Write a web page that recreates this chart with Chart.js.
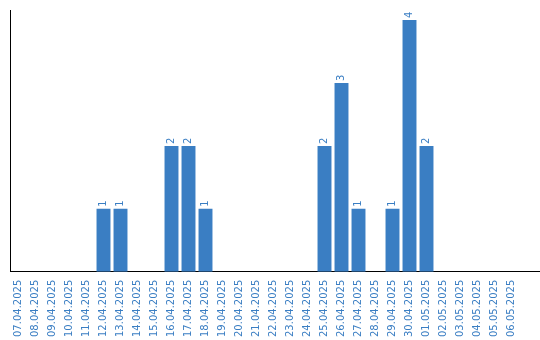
<!DOCTYPE html>
<html>
<head>
<meta charset="utf-8">
<script src="https://cdn.jsdelivr.net/npm/chart.js@4/dist/chart.umd.min.js"></script>
<style>
  html, body { margin: 0; padding: 0; background: #fff; }
  #wrap { width: 540px; height: 340px; }
</style>
</head>
<body>
<div id="wrap"><canvas id="c" width="540" height="340"></canvas></div>
<script>
const categories = ["07.04.2025","08.04.2025","09.04.2025","10.04.2025","11.04.2025","12.04.2025","13.04.2025","14.04.2025","15.04.2025","16.04.2025","17.04.2025","18.04.2025","19.04.2025","20.04.2025","21.04.2025","22.04.2025","23.04.2025","24.04.2025","25.04.2025","26.04.2025","27.04.2025","28.04.2025","29.04.2025","30.04.2025","01.05.2025","02.05.2025","03.05.2025","04.05.2025","05.05.2025","06.05.2025"];
const values = [0,0,0,0,0,1,1,0,0,2,2,1,0,0,0,0,0,0,2,3,1,0,1,4,2,0,0,0,0,0];

const BLUE = '#3a7ec3';

const valueLabels = {
  id: 'valueLabels',
  afterDatasetsDraw(chart) {
    const ctx = chart.ctx;
    const meta = chart.getDatasetMeta(0);
    ctx.save();
    ctx.fillStyle = BLUE;
    ctx.font = '10px "DejaVu Sans"';
    ctx.textAlign = 'left';
    ctx.textBaseline = 'middle';
    meta.data.forEach((bar, i) => {
      const v = values[i];
      if (!v) return;
      ctx.save();
      ctx.translate(bar.x, bar.y - 2);
      ctx.rotate(-Math.PI / 2);
      ctx.fillText(String(v), 0, 0);
      ctx.restore();
    });
    ctx.restore();
  }
};

const axisExtend = {
  id: 'axisExtend',
  afterDraw(chart) {
    const ctx = chart.ctx;
    const a = chart.chartArea;
    const y = Math.round(chart.scales.x.top - 0.5) + 0.5;
    ctx.save();
    ctx.strokeStyle = '#000';
    ctx.lineWidth = 1;
    ctx.beginPath();
    ctx.moveTo(a.right, y);
    ctx.lineTo(chart.width, y);
    ctx.stroke();
    ctx.restore();
  }
};

new Chart(document.getElementById('c'), {
  type: 'bar',
  data: {
    labels: categories,
    datasets: [{
      data: values,
      backgroundColor: BLUE,
      borderWidth: 0,
      categoryPercentage: 1,
      barPercentage: 0.82
    }]
  },
  options: {
    responsive: false,
    animation: false,
    layout: { padding: { left: 2, top: 10, right: 20, bottom: 3 } },
    plugins: { legend: { display: false }, tooltip: { enabled: false } },
    scales: {
      x: {
        grid: { display: false },
        border: { display: true, color: '#000', width: 1 },
        ticks: {
          color: BLUE,
          font: { family: 'DejaVu Sans', size: 10 },
          minRotation: 90,
          maxRotation: 90,
          autoSkip: false,
          padding: 0
        }
      },
      y: {
        min: 0,
        max: 4.16,
        grid: { display: false },
        border: { display: true, color: '#000', width: 1 },
        ticks: { display: false }
      }
    }
  },
  plugins: [valueLabels, axisExtend]
});
</script>
</body>
</html>
